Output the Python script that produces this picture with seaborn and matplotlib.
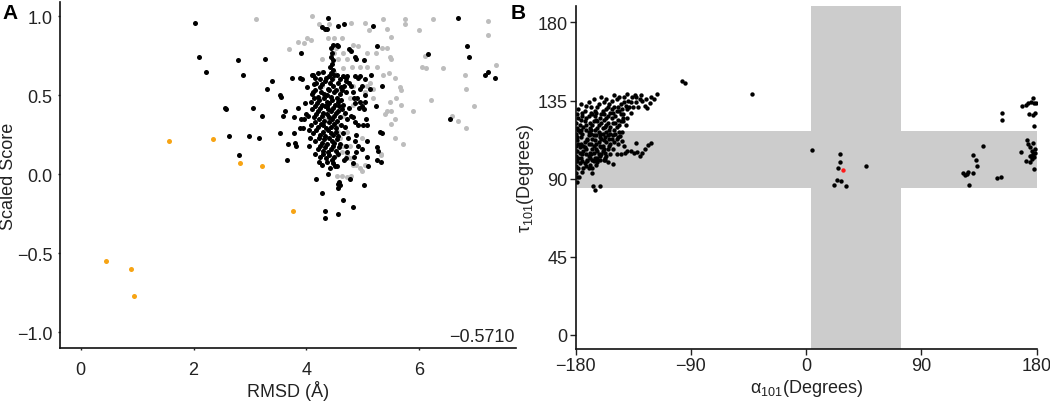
import matplotlib
matplotlib.use("Agg")
import matplotlib.pyplot as plt
import seaborn as sns
import pandas as pd

# ---- panel A: RMSD vs scaled score ----
orange_a = [(1.56, 0.21), (2.35, 0.22), (2.83, 0.07), (3.21, 0.05), (3.77, -0.23),
            (0.45, -0.55), (0.89, -0.60), (0.95, -0.77)]

black_a = [
    (2.02, 0.96), (2.09, 0.74), (2.22, 0.65), (2.56, 0.42), (2.58, 0.41), (2.79, 0.72), (2.87, 0.63),
    (2.63, 0.24), (2.81, 0.12), (2.98, 0.24), (3.05, 0.42), (3.17, 0.23), (3.22, 0.37), (3.26, 0.73),
    (3.31, 0.54), (3.40, 0.59), (3.54, 0.50), (3.55, 0.49), (3.53, 0.26), (3.62, 0.40), (3.58, 0.37),
    (3.65, 0.09), (3.67, 0.19), (3.74, 0.61), (3.78, 0.36), (3.78, 0.26), (3.80, 0.20), (3.81, 0.18),
    (3.86, 0.42), (3.88, 0.29), (3.91, 0.77), (3.89, 0.61), (3.92, 0.60), (3.90, 0.35), (3.94, 0.29),
    (3.96, 0.35), (4.03, 0.37), (4.07, 0.23), (4.11, 0.63), (4.12, 0.52), (4.15, 0.13), (4.18, -0.03),
    (4.28, -0.12), (4.33, -0.23), (4.33, -0.28), (4.38, 0.00), (4.56, -0.25), (4.66, -0.16), (4.82, -0.21),
    (5.02, -0.07), (4.78, -0.03), (4.57, -0.09), (4.56, -0.06), (4.58, -0.05), (4.60, -0.07), (4.51, 0.05),
    (4.27, 0.93), (4.33, 0.92), (4.39, 0.99), (4.36, 0.92), (4.57, 0.94), (4.67, 0.95), (4.48, 0.82),
    (4.54, 0.82), (4.57, 0.81), (4.76, 0.79), (4.80, 0.78), (4.86, 0.74), (4.88, 0.73), (5.03, 0.72),
    (5.19, 0.94), (5.26, 0.81), (5.14, 0.63), (5.24, 0.43), (5.35, 0.56), (5.31, 0.27), (5.34, 0.26),
    (5.26, 0.17), (5.27, 0.15), (5.33, 0.08), (5.25, 0.09), (5.10, 0.05), (5.07, 0.11), (5.08, 0.21),
    (4.99, 0.16), (5.08, 0.31), (5.06, 0.35), (5.00, 0.31), (5.03, 0.41), (4.99, 0.43), (4.94, 0.42),
    (4.96, 0.46), (5.05, 0.46), (5.05, 0.50), (4.99, 0.56), (4.96, 0.54), (5.13, 0.54), (5.05, 0.60),
    (4.95, 0.62), (4.92, 0.61), (4.87, 0.62), (4.73, 0.62), (4.71, 0.61), (4.76, 0.58), (4.80, 0.56),
    (4.83, 0.52), (4.84, 0.48), (4.90, 0.48), (4.86, 0.45), (4.79, 0.37), (4.82, 0.36), (4.86, 0.33),
    (4.91, 0.31), (4.89, 0.25), (4.86, 0.21), (4.92, 0.18), (4.89, 0.14), (4.84, 0.11), (4.83, 0.07),
    (4.73, 0.14), (4.71, 0.10), (4.67, 0.09), (4.71, 0.18), (4.74, 0.23),
    (6.69, 0.99), (6.86, 0.81), (6.89, 0.74), (6.16, 0.76), (6.55, 0.35), (7.17, 0.63), (7.23, 0.65),
    (7.34, 0.61),
    # dense cluster around 4.4 A
    (4.44, 0.80), (4.46, 0.77), (4.43, 0.74), (4.47, 0.72), (4.45, 0.70), (4.42, 0.68), (4.48, 0.66),
    (4.44, 0.64), (4.50, 0.63), (4.40, 0.62), (4.46, 0.60),
    (4.12, 0.63), (4.16, 0.61), (4.20, 0.64), (4.25, 0.60), (4.30, 0.65), (4.35, 0.61), (4.55, 0.63),
    (4.60, 0.60), (4.65, 0.62), (4.70, 0.59),
    (4.18, 0.58), (4.24, 0.55), (4.28, 0.57), (4.33, 0.59), (4.38, 0.54), (4.42, 0.58), (4.48, 0.56),
    (4.52, 0.53), (4.57, 0.58), (4.62, 0.55), (4.67, 0.56),
    (4.10, 0.51), (4.15, 0.53), (4.21, 0.49), (4.26, 0.52), (4.31, 0.51), (4.36, 0.50), (4.40, 0.53),
    (4.44, 0.49), (4.49, 0.52), (4.54, 0.48), (4.59, 0.51), (4.64, 0.53),
    (4.08, 0.46), (4.13, 0.48), (4.19, 0.45), (4.23, 0.47), (4.28, 0.44), (4.32, 0.48), (4.37, 0.46),
    (4.41, 0.45), (4.46, 0.47), (4.51, 0.44), (4.56, 0.46), (4.61, 0.47), (4.66, 0.44),
    (4.11, 0.41), (4.16, 0.43), (4.21, 0.40), (4.25, 0.42), (4.30, 0.39), (4.34, 0.43), (4.39, 0.41),
    (4.43, 0.40), (4.48, 0.42), (4.52, 0.39), (4.58, 0.43), (4.63, 0.41),
    (4.14, 0.36), (4.18, 0.38), (4.23, 0.35), (4.27, 0.37), (4.32, 0.34), (4.36, 0.38), (4.41, 0.36),
    (4.45, 0.35), (4.50, 0.37), (4.55, 0.34), (4.60, 0.36), (4.68, 0.39),
    (4.09, 0.31), (4.15, 0.33), (4.20, 0.30), (4.26, 0.32), (4.30, 0.31), (4.35, 0.29), (4.40, 0.33),
    (4.44, 0.30), (4.49, 0.32), (4.53, 0.29), (4.62, 0.31),
    (4.12, 0.26), (4.18, 0.28), (4.24, 0.25), (4.29, 0.27), (4.33, 0.24), (4.38, 0.28), (4.43, 0.26),
    (4.47, 0.25), (4.52, 0.27), (4.57, 0.24), (4.65, 0.26),
    (4.16, 0.21), (4.22, 0.23), (4.27, 0.20), (4.31, 0.22), (4.36, 0.19), (4.41, 0.23), (4.46, 0.21),
    (4.50, 0.20), (4.55, 0.22), (4.60, 0.19),
    (4.20, 0.16), (4.25, 0.18), (4.30, 0.15), (4.34, 0.17), (4.39, 0.14), (4.44, 0.16), (4.48, 0.18),
    (4.53, 0.15), (4.58, 0.17),
    (4.24, 0.11), (4.29, 0.13), (4.35, 0.10), (4.40, 0.12), (4.45, 0.09), (4.50, 0.11), (4.56, 0.13),
    (4.28, 0.06), (4.36, 0.08), (4.42, 0.04), (4.48, 0.07), (4.54, 0.05),
    (3.98, 0.45), (4.02, 0.55), (4.05, 0.28), (4.00, 0.38), (4.72, 0.35), (4.76, 0.42), (4.70, 0.52),
    (4.04, 0.18), (4.68, 0.30), (4.22, 0.08), (4.14, 0.57), (4.57, 0.40), (4.37, 0.43),
]

gray_a = [
    (3.11, 0.98), (4.11, 1.00), (4.23, 0.95), (4.41, 0.95), (3.70, 0.79), (3.86, 0.84), (3.96, 0.83),
    (4.01, 0.86), (4.09, 0.85), (4.39, 0.86), (4.49, 0.86), (4.64, 0.86), (4.66, 0.77), (4.53, 0.80),
    (4.83, 0.82), (4.91, 0.81), (5.07, 0.77), (5.23, 0.77), (5.35, 0.80), (5.44, 0.80), (5.51, 0.87),
    (5.44, 0.92), (5.36, 0.98), (5.05, 0.96), (5.12, 0.91), (4.80, 0.96), (5.75, 0.98), (5.75, 0.95),
    (6.00, 0.91), (6.24, 0.98), (5.49, 0.74), (5.51, 0.73), (5.36, 0.63), (5.46, 0.64), (5.57, 0.61),
    (5.25, 0.68), (5.07, 0.68), (4.95, 0.68), (4.81, 0.68), (4.72, 0.73), (4.57, 0.73), (4.50, 0.65),
    (4.50, 0.77), (4.28, 0.73), (4.28, 0.65), (4.28, 0.56), (5.66, 0.55), (5.68, 0.53), (5.60, 0.48),
    (5.49, 0.46), (5.68, 0.44), (5.89, 0.40), (5.40, 0.38), (5.44, 0.40), (5.51, 0.40), (5.57, 0.35),
    (5.51, 0.32), (5.58, 0.23), (5.72, 0.19), (5.33, 0.13), (5.33, 0.12), (6.22, 0.47), (6.06, 0.68),
    (6.13, 0.67), (6.10, 0.75), (6.42, 0.67), (6.58, 0.37), (6.69, 0.34), (6.83, 0.54), (6.84, 0.29),
    (6.81, 0.63), (6.98, 0.43), (7.22, 0.97), (7.22, 0.88), (7.36, 0.69),
    (4.54, 0.31), (4.57, 0.27), (4.60, 0.23), (4.66, 0.18), (4.72, 0.12), (4.78, 0.10), (4.83, 0.06),
    (4.95, 0.04), (4.98, 0.02), (4.54, -0.01), (4.63, -0.01), (4.72, -0.02), (4.80, -0.01), (4.89, 0.06),
    (5.04, 0.06), (5.07, 0.56), (5.13, 0.58), (5.19, 0.54), (5.19, 0.48), (4.78, 0.48), (4.83, 0.44),
    (4.66, 0.37), (4.48, 0.33), (4.33, 0.35), (4.30, 0.48), (4.48, 0.61), (4.60, 0.54), (4.66, 0.67),
    (4.83, 0.56), (5.04, 0.52), (4.72, 0.27), (4.63, 0.14), (4.55, 0.12), (4.48, 0.16), (4.48, 0.10),
    (4.78, 0.18), (4.98, 0.23),
]

score_note = "\u22120.5710"

# ---- panel B: alpha101 vs tau101 (degrees) ----
red_b = [(28.7, 94.9)]

black_b = [
    (-97.2, 146.4), (-94.4, 145.0), (-42.6, 138.7), (4.8, 106.6), (26.7, 104.3), (26.1, 99.7),
    (24.8, 95.9), (23.8, 89.1), (27.4, 88.7), (22.0, 86.4), (30.8, 85.5), (46.7, 97.2),
    (137.8, 108.9), (130.5, 103.5), (132.6, 100.8), (133.6, 97.0), (130.5, 93.5), (122.7, 93.2),
    (124.0, 92.2), (125.8, 92.6), (126.6, 93.9), (127.4, 86.2), (148.7, 90.3), (151.9, 90.7),
    (152.6, 127.7), (152.9, 123.9), (168.8, 131.6), (171.4, 132.3), (173.5, 133.5), (175.6, 133.9),
    (177.4, 136.4), (177.9, 133.5), (179.5, 133.3), (174.2, 127.5), (177.4, 126.8), (178.7, 127.7),
    (177.9, 120.1), (172.2, 112.2), (173.5, 109.9), (176.8, 110.8), (168.0, 105.1), (171.4, 100.3),
    (174.8, 108.0), (176.1, 106.0), (177.4, 104.1), (178.7, 107.0), (174.8, 103.2), (176.4, 101.2),
    (178.2, 102.2), (179.0, 104.7), (174.8, 99.3), (177.9, 95.5), (175.6, 102.8),
    # left cluster
    (-116.2, 138.7), (-118.8, 135.8), (-122.0, 133.5), (-124.0, 130.6),
    (-133.2, 110.4), (-131.8, 105.5), (-134.5, 104.5), (-129.8, 103.2), (-128.0, 104.7),
    (-125.9, 107.0), (-123.3, 109.3), (-121.4, 110.8), (-140.2, 106.0), (-141.5, 104.7),
    (-144.9, 104.1), (-142.3, 108.9), (-144.1, 111.8), (-145.4, 114.7),
    (-164.9, 83.4), (-166.7, 85.9), (-161.0, 85.9), (-179.2, 88.2), (-177.1, 90.7), (-167.0, 93.5),
    (-167.5, 96.4), (-163.6, 99.3), (-161.0, 100.7), (-154.5, 99.3), (-151.1, 98.5), (-157.4, 100.8),
    (-178, 130), (-175, 128), (-172, 132), (-168, 131), (-165, 129), (-162, 133), (-158, 134),
    (-155, 131), (-152, 135), (-148, 136), (-145, 133), (-142, 137), (-139, 135), (-136, 137),
    (-133, 134), (-130, 136),
    (-176, 124), (-170, 126), (-164, 124), (-160, 127), (-156, 125), (-153, 128), (-149, 126),
    (-146, 129), (-143, 127), (-140, 130), (-137, 128), (-150, 131), (-156, 130),
    (-178, 118), (-174, 120), (-170, 117), (-167, 121), (-163, 119), (-160, 122), (-157, 120),
    (-154, 118), (-151, 122), (-148, 120), (-145, 123), (-161, 116), (-166, 115),
    (-179, 112), (-176, 114), (-173, 111), (-170, 115), (-167, 113), (-164, 110), (-161, 114),
    (-158, 112), (-155, 115), (-152, 113), (-149, 116), (-146, 117),
    (-179, 106), (-177, 108), (-175, 104), (-172, 107), (-169, 105), (-166, 109), (-163, 106),
    (-160, 108), (-157, 105), (-154, 109), (-151, 107),
    (-179, 100), (-176, 102), (-173, 99), (-170, 103), (-167, 101), (-164, 98), (-161, 103),
    (-158, 101), (-178, 96), (-175, 94), (-172, 97),
    (-176, 133), (-170, 134), (-166, 136), (-160, 137), (-156, 136), (-150, 138), (-146, 137),
    (-140, 139), (-134, 138), (-128, 135), (-126, 132), (-131, 131),
    (-179, 127), (-173, 129), (-167, 127), (-163, 131), (-159, 129), (-154, 133), (-151, 128),
    (-147, 131), (-144, 130), (-141, 132), (-138, 131), (-135, 131),
    (-180, 122), (-177, 121), (-173, 123), (-169, 122), (-165, 126), (-162, 121), (-158, 124),
    (-155, 122), (-152, 125), (-147, 124), (-143, 125), (-141, 121),
    (-180, 116), (-177, 117), (-172, 118), (-168, 116), (-165, 118), (-162, 117), (-159, 116),
    (-156, 117), (-153, 116), (-150, 118), (-147, 114), (-144, 117),
    (-180, 109), (-178, 110), (-174, 109), (-171, 112), (-168, 110), (-165, 112), (-162, 111),
    (-159, 109), (-156, 111), (-153, 110), (-150, 111), (-147, 110),
    (-180, 103), (-177, 105), (-174, 106), (-171, 101), (-168, 104), (-165, 102), (-162, 104),
    (-159, 106), (-156, 103), (-153, 104), (-148, 104), (-137, 106),
    (-180, 97), (-177, 99), (-174, 96), (-171, 100), (-169, 98), (-166, 100), (-163, 102),
    (-180, 93), (-179, 91), (-170, 96),
    (-178, 125), (-175, 126), (-172, 125), (-168, 128), (-164, 128), (-161, 125), (-158, 127),
    (-155, 126), (-152, 130), (-148, 129), (-145, 127), (-142, 134), (-137, 134), (-133, 137),
    (-129, 138), (-125, 136), (-121, 137),
    (-179, 119), (-176, 118), (-172, 121), (-169, 119), (-166, 123), (-163, 123), (-159, 119),
    (-156, 121), (-153, 120), (-149, 122), (-146, 121), (-143, 123), (-140, 125),
    (-179, 114), (-175, 116), (-171, 113), (-168, 118), (-164, 115), (-160, 113), (-157, 114),
    (-154, 113), (-151, 115), (-148, 113),
    (-180, 106), (-176, 110), (-173, 108), (-170, 110), (-167, 107), (-164, 107), (-161, 109),
    (-158, 107), (-155, 107),
    (-180, 100), (-178, 102), (-175, 100), (-172, 104), (-169, 102), (-166, 105), (-163, 101),
    (-160, 104), (-157, 102),
]

# shaded regions (alpha band, tau band)
alpha_band = (4, 74)
tau_band = (84.5, 117.5)


def to_df(pts, cols):
    return pd.DataFrame(pts, columns=cols)


sns.set_style("ticks")
plt.rcParams['font.family'] = ['Liberation Sans', 'DejaVu Sans']
plt.rcParams['mathtext.fontset'] = 'custom'
plt.rcParams['mathtext.rm'] = 'Liberation Sans'
plt.rcParams['mathtext.it'] = 'Liberation Sans:italic'
plt.rcParams['axes.edgecolor'] = '#111111'
plt.rcParams['text.color'] = '#222222'

fig = plt.figure(figsize=(10.5, 4.02), dpi=100)
ax_a = fig.add_axes([0.0571, 0.1318, 0.4343, 0.8607])
ax_b = fig.add_axes([0.5483, 0.1294, 0.4390, 0.8532])

# panel A
cols_a = ['RMSD', 'Score']
sns.scatterplot(data=to_df(gray_a, cols_a), x='RMSD', y='Score', color='#bdbdbd',
                s=13, linewidth=0, ax=ax_a)
sns.scatterplot(data=to_df(black_a, cols_a), x='RMSD', y='Score', color='black',
                s=13, linewidth=0, ax=ax_a)
sns.scatterplot(data=to_df(orange_a, cols_a), x='RMSD', y='Score', color='#f7a414',
                s=13, linewidth=0, ax=ax_a)
ax_a.set_xlim(-0.37, 7.72)
ax_a.set_ylim(-1.10, 1.09)
ax_a.set_xticks([0, 2, 4, 6])
ax_a.set_yticks([-1.0, -0.5, 0.0, 0.5, 1.0])
ax_a.set_xlabel('RMSD (Å)', fontsize=13, color='#222222', labelpad=1)
ax_a.set_ylabel('Scaled Score', fontsize=13, color='#222222')
ax_a.yaxis.set_label_coords(-0.094, 0.5)
ax_a.tick_params(axis='both', labelsize=13, length=1.5, width=1, colors='#222222')
ax_a.tick_params(axis='x', pad=8)
ax_a.tick_params(axis='y', pad=4)
ax_a.text(0.998, 0.032, score_note, transform=ax_a.transAxes, ha='right', va='center',
          fontsize=13, color='#222222')

# panel B
ax_b.axvspan(*alpha_band, color='#cccccc', lw=0, zorder=0)
ax_b.axhspan(*tau_band, color='#cccccc', lw=0, zorder=0)
cols_b = ['alpha', 'tau']
sns.scatterplot(data=to_df(black_b, cols_b), x='alpha', y='tau', color='black',
                s=10, linewidth=0, ax=ax_b, zorder=2)
sns.scatterplot(data=to_df(red_b, cols_b), x='alpha', y='tau', color='#ff1a1a',
                s=10, linewidth=0, ax=ax_b, zorder=3)
ax_b.set_xlim(-180, 180)
ax_b.set_ylim(-8.2, 189.5)
ax_b.set_xticks([-180, -90, 0, 90, 180])
ax_b.set_yticks([0, 45, 90, 135, 180])
ax_b.set_xlabel(r'α$_{101}$(Degrees)', fontsize=13, color='#222222', labelpad=2)
ax_b.set_ylabel(r'τ$_{101}$(Degrees)', fontsize=13, color='#222222')
ax_b.yaxis.set_label_coords(-0.086, 0.5)
ax_b.tick_params(axis='both', labelsize=13, length=4, width=1, pad=2, colors='#222222')

for ax in (ax_a, ax_b):
    sns.despine(ax=ax)
    for sp in ('left', 'bottom'):
        ax.spines[sp].set_linewidth(1.2)

fig.text(0.002, 0.99, 'A', fontsize=15, fontweight='bold', ha='left', va='top', color='black')
fig.text(0.486, 0.99, 'B', fontsize=15, fontweight='bold', ha='left', va='top', color='black')

fig.savefig('out.png', dpi=100)
